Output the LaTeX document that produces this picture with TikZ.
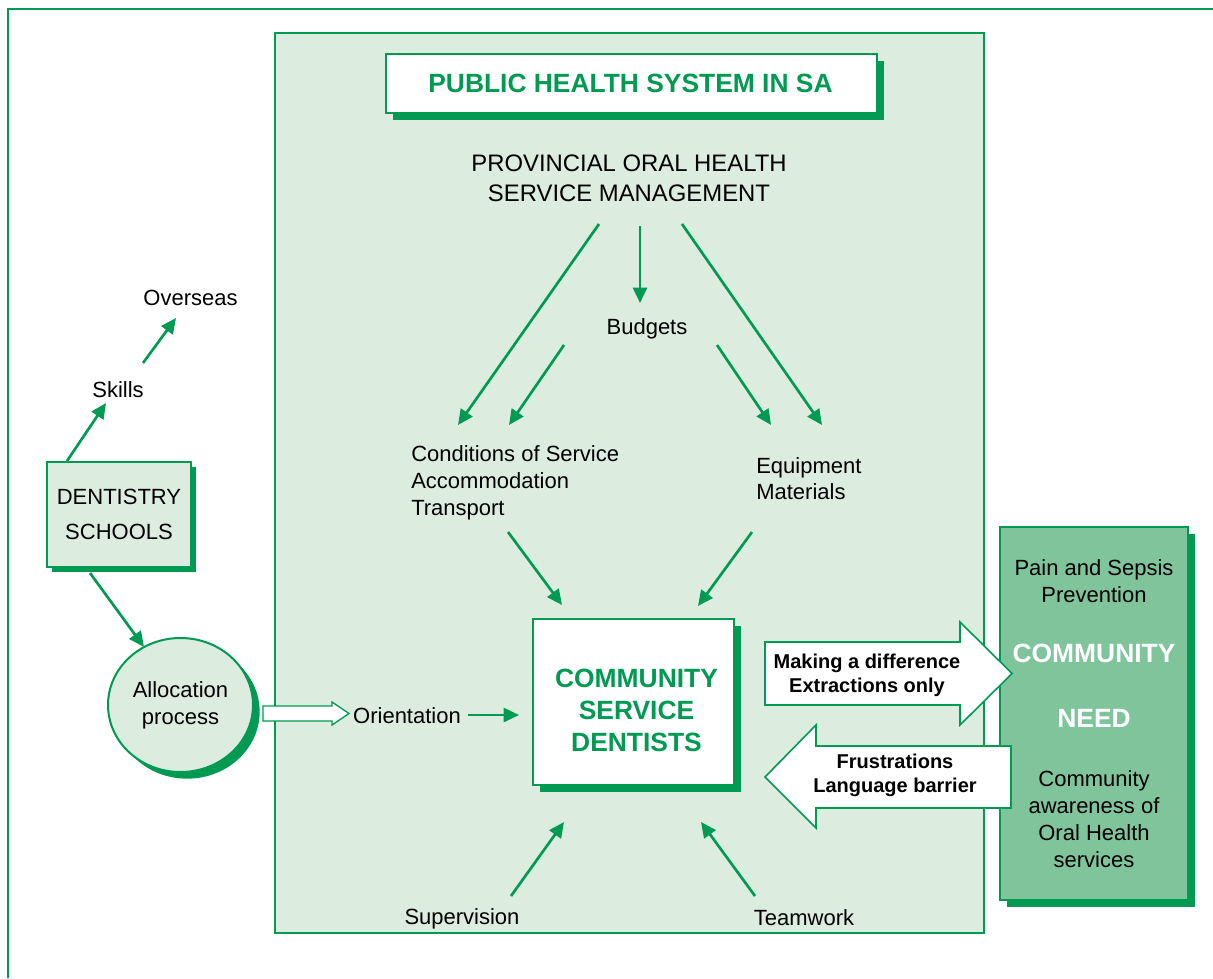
\documentclass[tikz,border=0pt]{standalone}
\usepackage{fontspec}
\setmainfont{Liberation Sans}
\usetikzlibrary{arrows.meta,shapes.geometric,shadows,fit}
\definecolor{dg}{RGB}{0,154,82}
\definecolor{pale}{RGB}{220,236,222}
\definecolor{mid}{RGB}{128,196,156}
\tikzset{
  flow/.style={draw=dg, line width=2pt, -{Triangle[length=11.5pt,width=10.5pt]}},
  txt/.style={font=\fontsize{16.5}{20.25}\selectfont, text=black, inner sep=0pt, align=center},
  bigtxt/.style={font=\bfseries\fontsize{19.8}{24}\selectfont, inner sep=0pt, align=center},
  arrtxt/.style={font=\bfseries\fontsize{15}{18}\selectfont, text=black, inner sep=0pt, align=center},
  sh/.style={general shadow={fill=dg, shadow xshift=#1, shadow yshift=-#1}},
  sh/.default=5pt,
  box/.style={draw=dg, line width=1.5pt, inner sep=0pt},
  hollow/.style={draw=dg, line width=1.2pt, fill=white, line join=miter},
}
\begin{document}
\begin{tikzpicture}[x=0.75pt,y=-0.75pt]
\useasboundingbox (0,0) rectangle (1213,978);
\fill[white] (0,0) rectangle (1213,978);

% outer frame (left and top edges)
\draw[dg, line width=1.2pt] (8,978) -- (8,9) -- (1213,9);

% public health system panel
\fill[pale] (275,33) rectangle (984,933);
\draw[dg, line width=1.5pt] (275,33) rectangle (984,933);

% title box
\node[box, fill=white, sh, fit={(386,54) (877,113)}] (title) {};
\node[bigtxt, text=dg] (titletext) at (630.5,83) {PUBLIC HEALTH SYSTEM IN SA};

% management and budgets
\node[txt, font=\fontsize{17.9}{22.5}\selectfont] (mgmt) at (629,178) {PROVINCIAL ORAL HEALTH\\SERVICE MANAGEMENT};
\node[txt] (budgets) at (647,329) {Budgets};
\node[txt, align=left, anchor=west] (cond) at (411,483) {Conditions of Service\\Accommodation\\Transport};
\node[txt, align=left, anchor=west, font=\fontsize{16.5}{19.5}\selectfont] (equip) at (756,479) {Equipment\\Materials};

% community service dentists
\node[box, fill=white, sh, minimum width=150.75pt, minimum height=124.5pt] (csd) at (633.5,702) {};
\node[bigtxt, text=dg] (csdtext) at (636.5,710) {COMMUNITY\\SERVICE\\DENTISTS};

\node[txt] (orient) at (407,716) {Orientation};
\node[txt] (superv) at (462,919) {Supervision};
\node[txt] (team) at (804,918) {Teamwork};

% dentistry schools and allocation
\node[box, fill=pale, sh=4pt, minimum width=108pt, minimum height=78.75pt,
      font=\fontsize{16.5}{26.25}\selectfont, align=center] (schools) at (119,514.5) {DENTISTRY\\SCHOOLS};
\node[txt] (skills) at (118,390) {Skills};
\node[txt] (overseas) at (190.5,298) {Overseas};
\node[ellipse, draw=dg, line width=1.5pt, fill=pale, sh, txt,
      minimum width=108.75pt, minimum height=100.5pt] (alloc) at (180.5,705) {Allocation\\process};

% community need
\node[draw=dg, line width=1pt, fill=mid, sh, minimum width=141pt, minimum height=279.75pt] (need) at (1094,713.5) {};
\node[txt] (pain) at (1094,581) {Pain and Sepsis\\Prevention};
\node[bigtxt, text=white] (needa) at (1094,653) {COMMUNITY};
\node[bigtxt, text=white] (needb) at (1094,718) {NEED};
\node[txt] (aware) at (1094,819) {Community\\awareness of\\Oral Health\\services};

% broad arrows between dentists and community
\draw[hollow] (765,642) -- (960,642) -- (960,622) -- (1012,673.5) -- (960,725) -- (960,705) -- (765,705) -- cycle;
\node[arrtxt] (diff) at (867,675) {Making a difference\\Extractions only};
\draw[hollow] (1011,746) -- (816,746) -- (816,725) -- (765,777) -- (816,828) -- (816,808) -- (1011,808) -- cycle;
\node[arrtxt] (frust) at (895,775) {Frustrations\\Language barrier};

% hollow arrow from allocation to orientation
\draw[hollow, line width=1pt] (263,706) -- (332,706) -- (332,702) -- (349,713.5) -- (332,725) -- (332,721) -- (263,721) -- cycle;

% connector end points
\coordinate (m1) at (599,224);   \coordinate (c1) at (458,425);
\coordinate (m2) at (640,226);   \coordinate (b1) at (640,303);
\coordinate (m3) at (682,224);   \coordinate (e1) at (822,425);
\coordinate (b2) at (564,345);   \coordinate (c2) at (509,425);
\coordinate (b3) at (717,345);   \coordinate (e2) at (771,425);
\coordinate (c3) at (508,532);   \coordinate (d1) at (562,605);
\coordinate (e3) at (752,532);   \coordinate (d2) at (698,606);
\coordinate (s1) at (511,896);   \coordinate (d3) at (564,822);
\coordinate (t1) at (755,896);   \coordinate (d4) at (701,822);
\coordinate (o1) at (468,715);   \coordinate (d5) at (519,715);
\coordinate (k0) at (67,461);    \coordinate (k1) at (106,403);
\coordinate (k2) at (143,363);   \coordinate (v1) at (176,318);
\coordinate (a0) at (90,573);    \coordinate (a1) at (144,647);

\draw[flow] (m1) -- (c1);
\draw[flow] (m2) -- (b1);
\draw[flow] (m3) -- (e1);
\draw[flow] (b2) -- (c2);
\draw[flow] (b3) -- (e2);
\draw[flow] (c3) -- (d1);
\draw[flow] (e3) -- (d2);
\draw[flow] (s1) -- (d3);
\draw[flow] (t1) -- (d4);
\draw[flow] (o1) -- (d5);
\draw[flow] (k0) -- (k1);
\draw[flow] (k2) -- (v1);
\draw[flow] (a0) -- (a1);
\end{tikzpicture}
\end{document}
